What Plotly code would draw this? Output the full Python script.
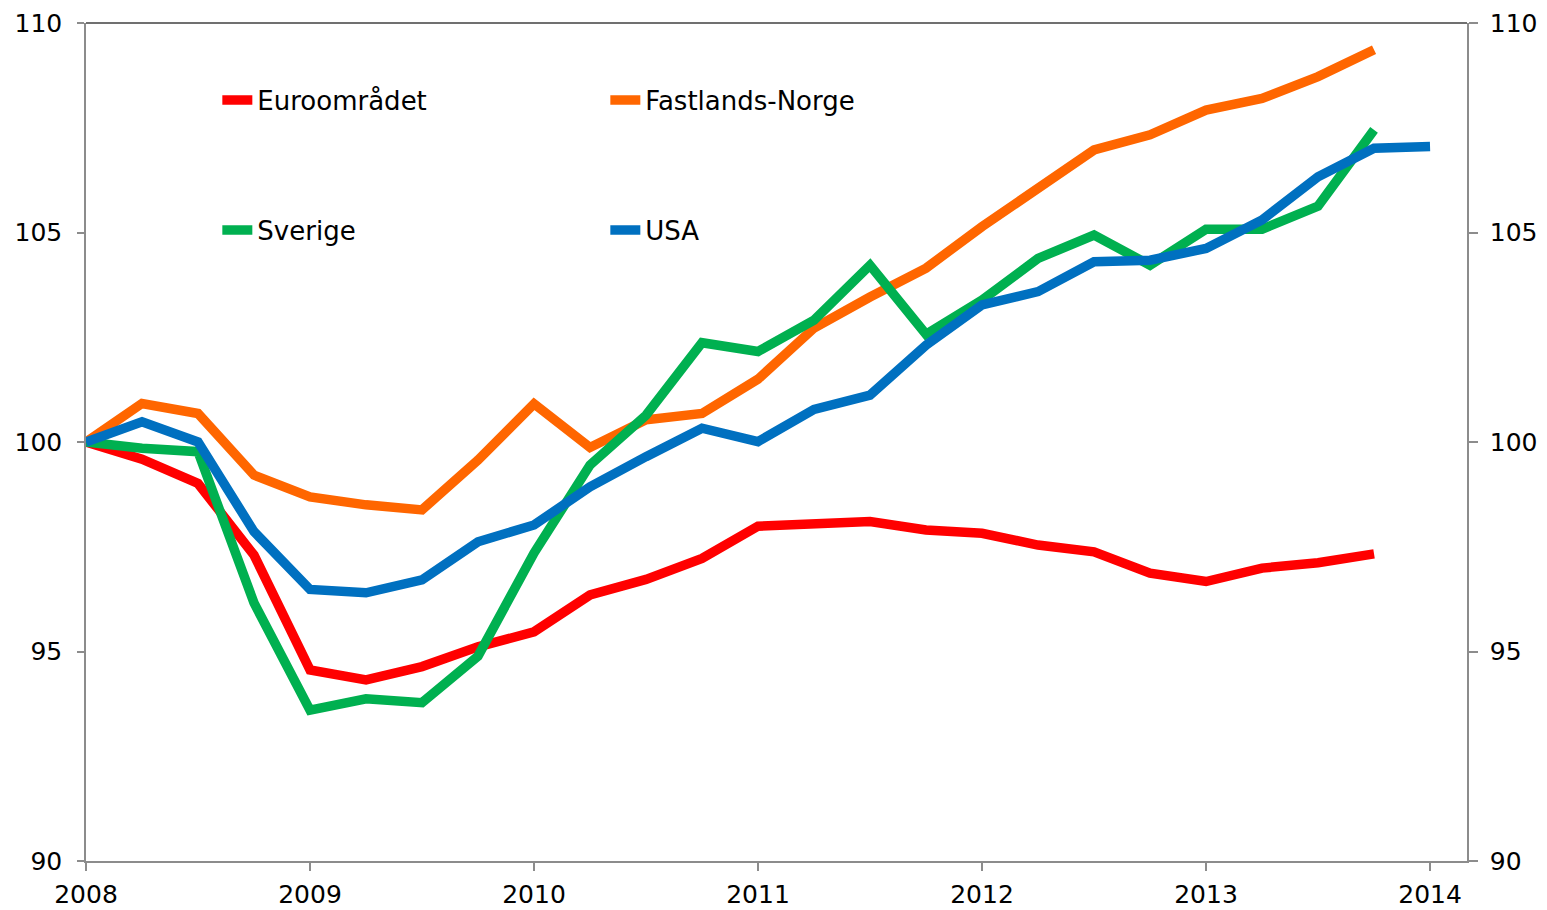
import plotly.graph_objects as go

# ---- data (quarterly index, 2008 Q1 = 100) ----
kvartaler = [
    "2008K1", "2008K2", "2008K3", "2008K4",
    "2009K1", "2009K2", "2009K3", "2009K4",
    "2010K1", "2010K2", "2010K3", "2010K4",
    "2011K1", "2011K2", "2011K3", "2011K4",
    "2012K1", "2012K2", "2012K3", "2012K4",
    "2013K1", "2013K2", "2013K3", "2013K4",
    "2014K1",
]

euroomradet = [100.0, 99.59, 99.01, 97.30, 94.56, 94.32, 94.64, 95.11,
               95.47, 96.35, 96.72, 97.22, 97.99, 98.04, 98.10, 97.90,
               97.82, 97.54, 97.38, 96.87, 96.67, 96.99, 97.12, 97.33]

fastlands_norge = [100.0, 100.92, 100.68, 99.21, 98.69, 98.50, 98.38, 99.57,
                   100.91, 99.87, 100.53, 100.68, 101.50, 102.72, 103.46, 104.15,
                   105.14, 106.05, 106.97, 107.33, 107.92, 108.20, 108.72, 109.36]

sverige = [100.0, 99.85, 99.77, 96.16, 93.60, 93.87, 93.78, 94.89,
           97.35, 99.45, 100.64, 102.37, 102.16, 102.91, 104.22, 102.57,
           103.39, 104.38, 104.94, 104.22, 105.08, 105.08, 105.63, 107.45]

usa = [100.0, 100.48, 100.0, 97.86, 96.48, 96.40, 96.71, 97.62,
       98.02, 98.93, 99.65, 100.33, 100.01, 100.78, 101.12, 102.31,
       103.27, 103.59, 104.30, 104.34, 104.62, 105.30, 106.33, 107.01, 107.05]

year_ticks = [2008, 2009, 2010, 2011, 2012, 2013, 2014]
y_ticks = [90, 95, 100, 105, 110]


def quarter_to_num(label):
    year, q = label.split("K")
    return int(year) + (int(q) - 1) / 4


x_all = [quarter_to_num(k) for k in kvartaler]

FONT = "DejaVu Sans, Verdana, sans-serif"
LEGEND_SIZE = 26
TICK_SIZE = 25
AXIS_COLOR = "#8C8C8C"

series = [
    ("Euroområdet", euroomradet, "#FF0000", "legend"),
    ("Fastlands-Norge", fastlands_norge, "#FF6600", "legend"),
    ("Sverige", sverige, "#00B050", "legend2"),
    ("USA", usa, "#0070C0", "legend2"),
]

fig = go.Figure()
for name, vals, color, leg in series:
    fig.add_trace(go.Scatter(
        x=x_all[:len(vals)], y=vals, name=name, mode="lines",
        line=dict(color=color, width=9.5),
        legend=leg,
    ))

# invisible trace to activate the right-hand axis
fig.add_trace(go.Scatter(
    x=[x_all[0]], y=[usa[0]], yaxis="y2", mode="markers",
    marker=dict(opacity=0), showlegend=False, hoverinfo="skip",
))

legend_common = dict(
    orientation="h",
    xanchor="left", yanchor="middle",
    font=dict(family=FONT, size=LEGEND_SIZE, color="#000000"),
    bgcolor="rgba(0,0,0,0)",
    entrywidth=343, entrywidthmode="pixels",
    itemclick=False, itemdoubleclick=False,
    tracegroupgap=0,
)

axis_common = dict(
    showgrid=False, zeroline=False, automargin=False,
    showline=True, linecolor=AXIS_COLOR, linewidth=1.5,
    ticks="outside", tickwidth=1.5, tickcolor=AXIS_COLOR,
    tickfont=dict(family=FONT, size=TICK_SIZE, color="#000000"),
)

# the page body adds an 8 px offset, so the figure is 8 px smaller
fig.update_layout(
    width=1539, height=902,
    margin=dict(l=78, r=80, t=15, b=49, autoexpand=False),
    paper_bgcolor="white", plot_bgcolor="white",
    font=dict(family=FONT, size=TICK_SIZE, color="#000000"),
    showlegend=True,
    legend=dict(x=0.0951, y=0.908, **legend_common),
    legend2=dict(x=0.0951, y=0.753, **legend_common),
    xaxis=dict(
        range=[2008, 2014.165],
        tickmode="array", tickvals=year_ticks,
        ticktext=[str(v) for v in year_ticks],
        ticklen=8, ticklabelstandoff=2,
        **axis_common,
    ),
    yaxis=dict(
        range=[90, 110],
        tickmode="array", tickvals=y_ticks,
        ticklen=7, ticklabelstandoff=10,
        **axis_common,
    ),
    yaxis2=dict(
        range=[90, 110], overlaying="y", side="right",
        tickmode="array", tickvals=y_ticks,
        ticklen=9, ticklabelstandoff=7,
        **axis_common,
    ),
    shapes=[dict(type="line", xref="paper", yref="paper",
                 x0=0, x1=1, y0=1, y1=1,
                 line=dict(color="#404040", width=1.5))],
)

fig.write_html("out.html")
